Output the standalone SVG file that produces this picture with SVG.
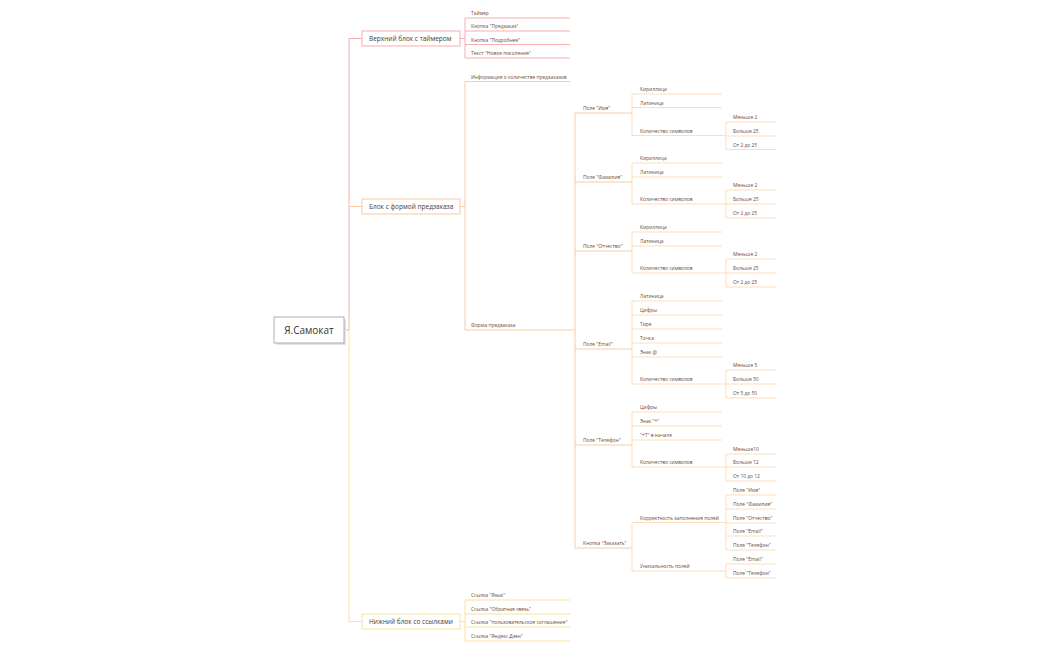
<svg xmlns="http://www.w3.org/2000/svg" width="1050" height="650" viewBox="0 0 1050 650">
<style>
text{font-family:"Open Sans","Liberation Sans",sans-serif}
.s{font-size:4.9px;fill:#6b4a3a}
.b{font-size:6.5px;fill:#4a3a3a}
.r{stroke:#f5a5a5;fill:none;stroke-width:0.9}
.o{stroke:#f9c597;fill:none;stroke-width:0.9}
.p{stroke:#fcd9b5;fill:none;stroke-width:0.9}
.y{stroke:#f7e08c;fill:none;stroke-width:0.9}
</style>
<rect width="1050" height="650" fill="#fff"/>
<g id="connectors">
<path class="r" d="M344 330H349V38.5H362"/>
<path class="o" d="M349 206.5H362"/>
<path class="y" d="M349 330V621.5H362"/>
<path class="r" d="M460 38.5H465M465 18V58M465 18H570M465 31H570M465 44.5H570M465 58H570"/>
<path class="o" d="M460 206.5H465M465 81.5V330M465 81.5H570M465 330H575"/>
<path class="o" d="M575 113V548M575 113H632M575 182H632M575 251H632M575 349H632M575 445H632M575 548H632"/>
<path class="p" d="M632 94V135.5M632 94H722M632 107.5H722M632 135.5H726M726 122V149.5M726 122H776M726 136H776M726 149.5H776"/>
<path class="p" d="M632 163V204M632 163H722M632 177H722M632 204H726M726 190V218M726 190H776M726 204H776M726 218H776"/>
<path class="p" d="M632 232V273M632 232H722M632 246H722M632 273H726M726 259V287M726 259H776M726 273H776M726 287H776"/>
<path class="p" d="M632 301V384M632 301H722M632 315H722M632 329H722M632 343H722M632 357H722M632 384H726M726 370V398M726 370H776M726 384H776M726 398H776"/>
<path class="p" d="M632 412V467M632 412H722M632 426H722M632 440H722M632 467H726M726 454V481M726 454H776M726 467H776M726 481H776"/>
<path class="p" d="M632 522.5V571M632 522.5H726M632 571H726M726 495V550M726 495H776M726 509H776M726 523H776M726 536H776M726 550H776M726 564V578M726 564H776M726 578H776"/>
<path class="y" d="M460 621.5H465M465 600V641M465 600H570M465 614H570M465 627H570M465 641H570"/>
</g>
<g id="root">
<rect x="276" y="319" width="70" height="26" fill="#e4e4ea"/>
<rect x="274" y="317" width="70" height="26" fill="#fff" stroke="#9a9aa8" stroke-width="0.8"/>
<text x="309" y="334" text-anchor="middle" style="font-size:10px;fill:#333">Я.Самокат</text>
</g>
<g id="block1"><rect x="362" y="31" width="98" height="15" fill="#fff" stroke="#f5a5a5" stroke-width="0.9"/><text class="b" x="369" y="41">Верхний блок с таймером</text></g>
<g id="block2"><rect x="362" y="199" width="98" height="15" fill="#fff" stroke="#f9c597" stroke-width="0.9"/><text class="b" x="369" y="209">Блок с формой предзаказа</text></g>
<g id="block3"><rect x="362" y="614" width="98" height="15" fill="#fff" stroke="#f7e08c" stroke-width="0.9"/><text class="b" x="369" y="624">Нижний блок со ссылками</text></g>
<g id="leaves" transform="translate(0,1)">
<text class="s" x="471" y="14">Таймер</text>
<text class="s" x="471" y="27">Кнопка "Предзаказ"</text>
<text class="s" x="471" y="40.5">Кнопка "Подробнее"</text>
<text class="s" x="471" y="54">Текст "Новое поколение"</text>
<text class="s" x="471" y="77.5">Информация о количестве предзаказов</text>
<text class="s" x="471" y="326">Форма предзаказа</text>
<text class="s" x="583" y="109">Поле "Имя"</text>
<text class="s" x="583" y="178">Поле "Фамилия"</text>
<text class="s" x="583" y="247">Поле "Отчество"</text>
<text class="s" x="583" y="345">Поле "Email"</text>
<text class="s" x="583" y="441">Поле "Телефон"</text>
<text class="s" x="583" y="544">Кнопка "Заказать"</text>
<text class="s" x="640" y="90">Кириллица</text>
<text class="s" x="640" y="103.5">Латиница</text>
<text class="s" x="640" y="131.5">Количество символов</text>
<text class="s" x="733" y="118">Меньше 2</text>
<text class="s" x="733" y="132">Больше 25</text>
<text class="s" x="733" y="145.5">От 2 до 25</text>
<text class="s" x="640" y="159">Кириллица</text>
<text class="s" x="640" y="173">Латиница</text>
<text class="s" x="640" y="200">Количество символов</text>
<text class="s" x="733" y="186">Меньше 2</text>
<text class="s" x="733" y="200">Больше 25</text>
<text class="s" x="733" y="214">От 2 до 25</text>
<text class="s" x="640" y="228">Кириллица</text>
<text class="s" x="640" y="242">Латиница</text>
<text class="s" x="640" y="269">Количество символов</text>
<text class="s" x="733" y="255">Меньше 2</text>
<text class="s" x="733" y="269">Больше 25</text>
<text class="s" x="733" y="283">От 2 до 25</text>
<text class="s" x="640" y="297">Латиница</text>
<text class="s" x="640" y="311">Цифры</text>
<text class="s" x="640" y="325">Тире</text>
<text class="s" x="640" y="339">Точка</text>
<text class="s" x="640" y="353">Знак @</text>
<text class="s" x="640" y="380">Количество символов</text>
<text class="s" x="733" y="366">Меньше 5</text>
<text class="s" x="733" y="380">Больше 50</text>
<text class="s" x="733" y="394">От 5 до 50</text>
<text class="s" x="640" y="408">Цифры</text>
<text class="s" x="640" y="422">Знак "+"</text>
<text class="s" x="640" y="436">"+7" в начале</text>
<text class="s" x="640" y="463">Количество символов</text>
<text class="s" x="733" y="450">Меньше10</text>
<text class="s" x="733" y="463">Больше 12</text>
<text class="s" x="733" y="477">От 10 до 12</text>
<text class="s" x="640" y="518.5">Корректность заполнения полей</text>
<text class="s" x="640" y="567">Уникальность полей</text>
<text class="s" x="733" y="491">Поле "Имя"</text>
<text class="s" x="733" y="505">Поле "Фамилия"</text>
<text class="s" x="733" y="519">Поле "Отчество"</text>
<text class="s" x="733" y="532">Поле "Email"</text>
<text class="s" x="733" y="546">Поле "Телефон"</text>
<text class="s" x="733" y="560">Поле "Email"</text>
<text class="s" x="733" y="574">Поле "Телефон"</text>
<text class="s" x="471" y="596">Ссылка "Язык"</text>
<text class="s" x="471" y="610">Ссылка "Обратная связь"</text>
<text class="s" x="471" y="623">Ссылка "пользовательское соглашение"</text>
<text class="s" x="471" y="637">Ссылка "Яндекс Дзен"</text>
</g>
</svg>
